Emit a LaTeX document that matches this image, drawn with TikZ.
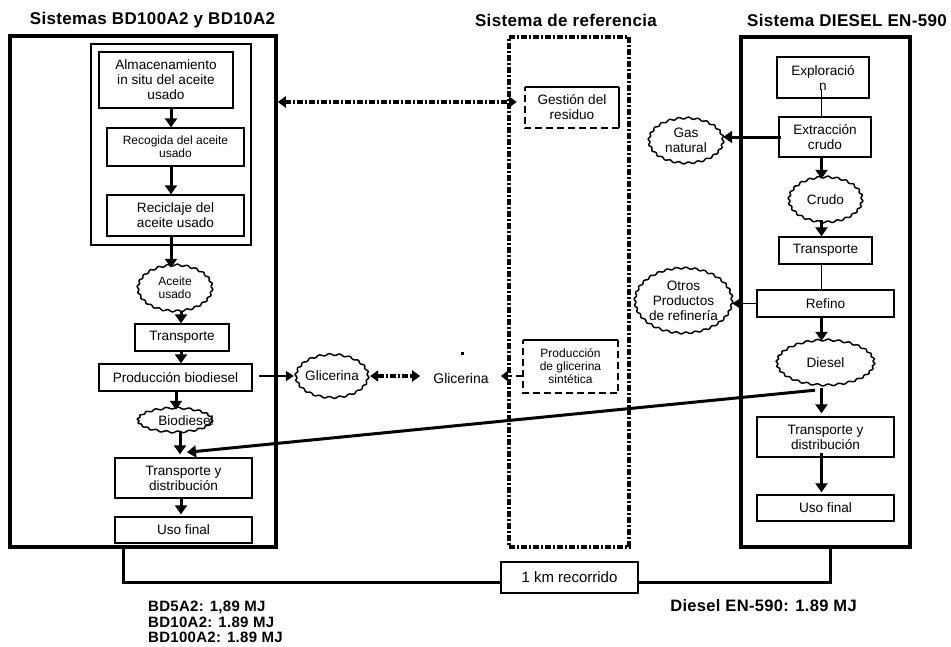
\documentclass[tikz,border=0pt]{standalone}
\usepackage{fontspec}
\setmainfont{Liberation Sans}
\newfontfamily\headfont[LetterSpace=2]{Liberation Sans}
\usetikzlibrary{arrows.meta,shapes.geometric,calc}
% wavy outline round a node: node, half width, half height, number of waves
\newcommand\cloudborder[4]{%
  \draw[cloudline, shift={(#1.center)}]
    plot[samples=241, domain=0:360] ({(#2+0.9*sin(#4*\x))*cos(\x)}, {(#3+0.9*sin(#4*\x))*sin(\x)}) -- cycle;}
\begin{document}
\begin{tikzpicture}[x=1pt,y=-1pt,
  txt/.style={font=\fontsize{13.6}{15}\selectfont, align=center, inner sep=0pt},
  small/.style={font=\fontsize{12}{13}\selectfont},
  box/.style={txt, draw, line width=1.4pt},
  cloud/.style={txt, ellipse},
  cloudline/.style={line width=1.5pt, line join=round},
  system/.style={draw, line width=3.5pt, inner sep=0pt},
  refsystem/.style={draw, line width=4pt, inner sep=0pt,
    dash pattern=on 6pt off 2pt on 2pt off 2pt},
  flow/.style={line width=3pt, -{Triangle[length=9pt,width=12pt]}},
  thinflow/.style={line width=1.8pt, -{Triangle[length=8pt,width=10pt]}},
  link/.style={line width=1pt},
  dd/.style={line width=3.5pt, dash pattern=on 6pt off 2pt on 2pt off 2pt,
    {Triangle[length=8pt,width=11pt]}-{Triangle[length=8pt,width=11pt]}},
  head/.style={font={\fontsize{17}{19}\headfont\bfseries}, inner sep=0pt},
  foot/.style={font={\fontsize{15}{15.5}\headfont\bfseries}, inner sep=0pt},
]
\useasboundingbox (0,0) rectangle (951,646);

% column positions of the vertical flows
\coordinate (xa) at (171,0);
\coordinate (xb) at (181,0);
\coordinate (xc) at (176,0);
\coordinate (xd) at (180,0);
\coordinate (xr) at (821.5,0);
\coordinate (xl) at (123,0);
\coordinate (xrr) at (830,0);
\coordinate (gy) at (0,376);

% headings
\node[head] (tl) at (152.5,20) {Sistemas BD100A2 y BD10A2};
\node[head] (tm) at (566,20) {Sistema de referencia};
\node[head] (tr) at (847,20) {Sistema DIESEL EN-590};

% system frames
\node[system, minimum width=266, minimum height=511] (outerL) at (143,291.5) {};
\node[draw, line width=1.3pt, inner sep=0pt, minimum width=160, minimum height=201] (innerL) at (171,144.5) {};
\node[refsystem, minimum width=120, minimum height=510] (refbox) at (569,292) {};
\node[system, minimum width=169, minimum height=510] (outerR) at (825.5,292) {};

% biodiesel chain
\node[box, minimum width=134, minimum height=56] (alm) at (166,80) {Almacenamiento\\in situ del aceite\\usado};
\node[box, small, minimum width=137, minimum height=38] (rec) at (175.5,147) {Recogida del aceite\\usado};
\node[box, minimum width=137, minimum height=41] (recic) at (175.5,215.5) {Reciclaje del\\aceite usado};
\node[cloud, small, minimum width=74, minimum height=46] (aceite) at (175,288) {Aceite\\usado};
\cloudborder{aceite}{37}{23}{24}
\node[box, minimum width=94, minimum height=27] (transL) at (182,337.5) {Transporte};
\node[box, minimum width=153, minimum height=27] (prod) at (175.5,377.5) {Producción biodiesel};
\node[cloud, minimum width=74, minimum height=24] (bio) at (175,420) {};
\cloudborder{bio}{37}{12}{20}
\node[txt] (biotxt) at (186,421) {Biodiesel};
\node[box, minimum width=137, minimum height=40] (tydL) at (183.5,478) {Transporte y\\distribución};
\node[box, minimum width=137, minimum height=26] (usoL) at (183.5,530) {Uso final};

\draw[flow] (alm.south -| xa) -- (rec.north -| xa);
\draw[flow] (rec.south -| xa) -- (recic.north -| xa);
\draw[flow] (recic.south -| xa) -- ([yshift=-3pt]aceite.north -| xa);
\draw[flow] (aceite.south -| xb) -- (transL.north -| xb);
\draw[flow] (transL.south -| xb) -- (prod.north -| xb);
\draw[flow] (prod.south -| xc) -- ([yshift=-2pt]bio.north -| xc);
\draw[flow] (bio.south -| xd) -- ([yshift=3pt]tydL.north -| xd);
\draw[flow] (tydL.south -| xb) -- ([yshift=2pt]usoL.north -| xb);

% reference system
\node[txt, minimum width=94, minimum height=41] (gest) at (572,107.5) {Gestión del\\residuo};
\draw[line width=1.5pt] (gest.north west) -- (gest.north east);
\draw[line width=2pt] (gest.north east) -- (gest.south east);
\draw[line width=2pt, dash pattern=on 7pt off 4pt] (gest.south east) -- (gest.south west) -- (gest.north west);

\node[txt, small, minimum width=95, minimum height=53] (gsint) at (570.5,366.5) {Producción\\de glicerina\\sintética};
\draw[line width=1.5pt] (gsint.north west) -- (gsint.north east);
\draw[line width=2pt, dash pattern=on 7pt off 4pt] (gsint.north east) -- (gsint.south east) -- (gsint.south west) -- (gsint.north west);

\coordinate (gw) at ([xshift=-8pt,yshift=5.5pt]gest.west);
\draw[dd] (outerL.east |- gw) -- (gw);

% glycerine
\node[cloud, minimum width=72, minimum height=43] (glicL) at (332,376) {Glicerina};
\cloudborder{glicL}{36}{21.5}{22}
\node[txt, font=\fontsize{14}{15}\selectfont] (glicR) at (461,378) {Glicerina};
\fill (460.5,351.5) rectangle (463.5,354.5);
\draw[thinflow] ([xshift=6pt]prod.east |- gy) -- (glicL.west |- gy);
\draw[dd] (glicL.east |- gy) -- ([xshift=-13pt]glicR.west |- gy);
\draw[line width=2pt, dash pattern=on 7pt off 4pt, -{Triangle[length=7pt,width=10pt]}]
  (gsint.west |- gy) -- ([xshift=-22pt]gsint.west |- gy);

% diesel chain
\node[box, minimum width=92, minimum height=41] (expl) at (823,77.5) {Exploració\\n};
\node[box, minimum width=92, minimum height=40] (extr) at (825,137) {Extracción\\crudo};
\node[cloud, minimum width=74, minimum height=45] (gas) at (686,140.5) {Gas\\natural};
\cloudborder{gas}{37}{22.5}{24}
\node[cloud, minimum width=73, minimum height=45] (crudo) at (825.5,199.5) {Crudo};
\cloudborder{crudo}{36.5}{22.5}{24}
\node[box, minimum width=93, minimum height=27] (transR) at (825.5,250.5) {Transporte};
\node[box, minimum width=137, minimum height=27] (refino) at (825.5,303.5) {Refino};
\node[cloud, minimum width=97, minimum height=65] (otros) at (683.5,300.5) {Otros\\Productos\\de refinería};
\cloudborder{otros}{48.5}{32.5}{32}
\node[cloud, minimum width=97, minimum height=45] (diesel) at (825.5,362.5) {Diesel};
\cloudborder{diesel}{48.5}{22.5}{28}
\node[box, minimum width=137, minimum height=40] (tydR) at (825.5,437) {Transporte y\\distribución};
\node[box, minimum width=137, minimum height=26] (usoR) at (825.5,508) {Uso final};

\draw[link] ([yshift=10pt]expl.south -| xr) -- (extr.north -| xr);
\draw[flow] ([xshift=3pt]extr.west) -- (gas.east |- extr.west);
\draw[flow] (extr.south -| xr) -- ([yshift=-2pt]crudo.north -| xr);
\draw[flow] ([yshift=2pt]crudo.south -| xr) -- (transR.north -| xr);
\draw[link] (transR.south -| xr) -- (refino.north -| xr);
\draw[thinflow] (refino.west) -- (otros.east |- refino.west);
\draw[flow] (refino.south -| xr) -- ([yshift=-1pt]diesel.north -| xr);
\draw[flow] ([yshift=-3pt]diesel.south -| xr) -- ([yshift=3pt]tydR.north -| xr);
\draw[flow] ([yshift=5pt]tydR.south -| xr) -- ([yshift=2pt]usoR.north -| xr);

% diesel blended into the biodiesel distribution
\draw[flow] ([xshift=-10.5pt,yshift=-5pt]diesel.south) -- ([xshift=3.5pt,yshift=5pt]tydL.north);

% functional unit
\node[txt, draw, line width=2.5pt, font=\fontsize{15}{16}\selectfont, minimum width=137, minimum height=31] (km) at (569.5,577.5) {1 km recorrido};
\draw[line width=3pt] (outerL.south -| xl) |- ([yshift=-4.5pt]km.west);
\draw[line width=3pt] ([yshift=-4.5pt]km.east) -| (outerR.south -| xrr);

% results
\node[foot, anchor=west, align=left] (bdres) at (148,622) {BD5A2: 1,89 MJ\\BD10A2: 1.89 MJ\\BD100A2: 1.89 MJ};
\node[foot, font={\fontsize{16.5}{17}\headfont\bfseries}] (dres) at (763.5,606) {Diesel EN-590: 1.89 MJ};
\end{tikzpicture}
\end{document}
